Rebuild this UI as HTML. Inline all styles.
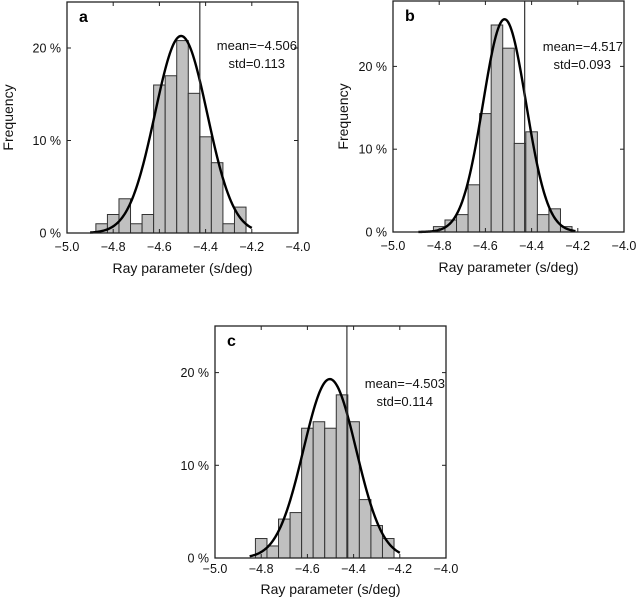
<!DOCTYPE html>
<html><head><meta charset="utf-8"><style>
body{margin:0;background:#fff;}
svg{display:block;font-family:"Liberation Sans",sans-serif;}
</style></head><body>
<svg id="fig" width="638" height="598" viewBox="0 0 638 598"></svg>
<script>
const binStartA = -4.875;
const valuesA = [1, 2, 3.7, 1, 2, 16, 17, 20.8, 15.1, 10.4, 7.6, 1, 2.8];
const binStartB = -4.825;
const valuesB = [0.65, 1.45, 2.1, 5.7, 14.3, 25, 22.2, 10.7, 12.1, 2.1, 2.8, 0.65];
const binStartC = -4.825;
const valuesC = [2.1, 1.3, 4.2, 4.9, 14.0, 14.7, 14.0, 17.6, 14.7, 6.3, 3.5, 2.1];
const binWidth = 0.05;
const fitMean = [-4.506, -4.517, -4.503];
const fitStd = [0.113, 0.093, 0.114];
const fitPeak = [21.3, 25.7, 19.3];
const fitRange = [[-4.9, -4.2], [-4.89, -4.21], [-4.85, -4.2]];
const refLine = [-4.425, -4.43, -4.429];
const meanLabels = ["mean=\u22124.506", "mean=\u22124.517", "mean=\u22124.503"];
const stdLabels = ["std=0.113", "std=0.093", "std=0.114"];
const xTicks = [-5.0, -4.8, -4.6, -4.4, -4.2, -4.0];
const xTickLabels = ["\u22125.0", "\u22124.8", "\u22124.6", "\u22124.4", "\u22124.2", "\u22124.0"];
const yTicks = [0, 10, 20];
const yTickLabels = ["0 %", "10 %", "20 %"];
const panelLetters = ["a", "b", "c"];

const NS = "http://www.w3.org/2000/svg";
const svg = document.getElementById("fig");
function mk(tag, attrs, parent, text) {
  const e = document.createElementNS(NS, tag);
  for (const k in attrs) e.setAttribute(k, attrs[k]);
  if (text !== undefined) e.textContent = text;
  parent.appendChild(e);
  return e;
}
const panels = [
  {L:67, T:2, W:231, H:231, yPer10:92.5, starts:binStartA, vals:valuesA, ylab:8, tickDy:18, titleDy:40},
  {L:393, T:1, W:231, H:231, yPer10:82.8, starts:binStartB, vals:valuesB, ylab:343, tickDy:18, titleDy:40},
  {L:215, T:326, W:231, H:232, yPer10:92.7, starts:binStartC, vals:valuesC, ylab:null, tickDy:15, titleDy:36}
];
panels.forEach((p, i) => {
  const g = mk("g", {}, svg);
  
  
  const B = p.T + p.H;
  const xs = v => p.L + (v + 5.0) * p.W;
  const ys = v => B - v * p.yPer10 / 10;
  p.vals.forEach((v, k) => {
    const x0 = xs(p.starts + k * binWidth), x1 = xs(p.starts + (k + 1) * binWidth);
    const r = mk("rect", {x:x0, y:ys(v), width:x1 - x0, height:B - ys(v), fill:"#c0c0c0", stroke:"#333", "stroke-width":1}, g);
    
    
  });
  let d = "";
  const [a, b] = fitRange[i];
  for (let k = 0; k <= 140; k++) {
    const x = a + (b - a) * k / 140;
    const y = fitPeak[i] * Math.exp(-0.5 * Math.pow((x - fitMean[i]) / fitStd[i], 2));
    d += (k ? "L" : "M") + xs(x).toFixed(2) + "," + ys(y).toFixed(2);
  }
  const c = mk("path", {d:d, fill:"none", stroke:"#000", "stroke-width":2.4}, g);
  
  
  const rl = mk("line", {x1:xs(refLine[i]), x2:xs(refLine[i]), y1:p.T, y2:B, stroke:"#333", "stroke-width":1.2}, g);
  
  
  const fr = mk("rect", {x:p.L, y:p.T, width:p.W, height:p.H, fill:"none", stroke:"#222", "stroke-width":1.3}, g);
  
  
  xTicks.forEach((t, k) => {
    mk("line", {x1:xs(t), x2:xs(t), y1:B, y2:B - 4, stroke:"#222"}, g);
    mk("line", {x1:xs(t), x2:xs(t), y1:p.T, y2:p.T + 4, stroke:"#222"}, g);
    const tl = mk("text", {x:xs(t), y:B + p.tickDy, "text-anchor":"middle", "font-size":12.5, fill:"#111"}, g, xTickLabels[k]);
    
    
  });
  yTicks.forEach((t, k) => {
    mk("line", {x1:p.L, x2:p.L + 4, y1:ys(t), y2:ys(t), stroke:"#222"}, g);
    mk("line", {x1:p.L + p.W, x2:p.L + p.W - 4, y1:ys(t), y2:ys(t), stroke:"#222"}, g);
    const tl = mk("text", {x:p.L - 6, y:ys(t) + 4.5, "text-anchor":"end", "font-size":12.5, fill:"#111"}, g, yTickLabels[k]);
    
    
  });
  const xl = mk("text", {x:p.L + p.W / 2, y:B + p.titleDy, "text-anchor":"middle", "font-size":14, fill:"#111"}, g, "Ray parameter (s/deg)");
  
  
  if (p.ylab !== null) {
    const cy = p.T + p.H / 2;
    const yl = mk("text", {x:p.ylab + 5, y:cy, "text-anchor":"middle", "font-size":14, fill:"#111", transform:"rotate(-90 " + (p.ylab + 5) + " " + cy + ")"}, g, "Frequency");
    
    
  }
  const pl = mk("text", {x:p.L + 12, y:p.T + 20, "font-size":16, "font-weight":"bold", fill:"#000"}, g, panelLetters[i]);
  
  
  const ty = i === 2 ? p.T + 62 : (i === 1 ? p.T + 50 : p.T + 48);
  const m = mk("text", {x:p.L + p.W - 1, y:ty, "text-anchor":"end", "font-size":13, fill:"#111"}, g, meanLabels[i]);
  
  
  const s = mk("text", {x:p.L + p.W - 13, y:ty + 18, "text-anchor":"end", "font-size":13, fill:"#111"}, g, stdLabels[i]);
  
  
});
</script>
</body></html>
